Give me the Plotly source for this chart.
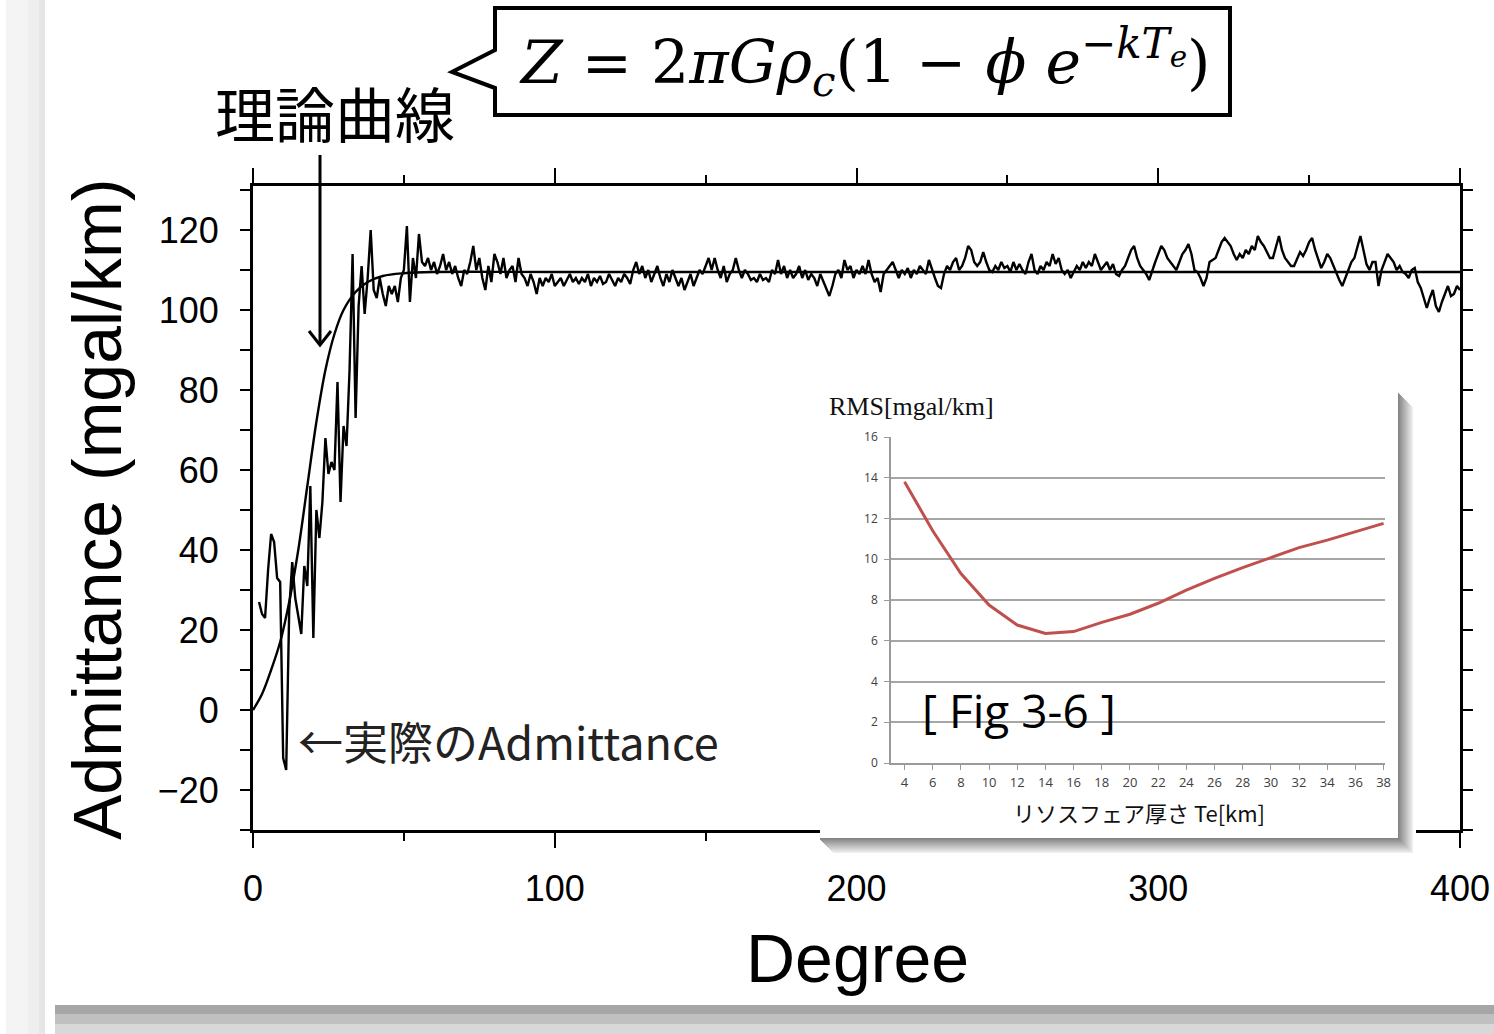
import plotly.graph_objects as go

# ---------------- data ----------------
degree = list(range(2, 401))
admittance_obs = [
    27, 24, 23, 35, 44, 42, 33, 32, -12, -15,
    25, 37, 28, 24, 19, 36, 31, 56, 18, 50,
    43, 52, 68, 59, 62, 60, 82, 52, 71, 66,
    85, 114, 73, 101, 111, 99, 108, 120, 105, 103,
    108, 104, 101, 106, 104, 106, 102, 108, 110, 121,
    102, 113, 108, 119, 112, 111, 113, 110, 112, 109,
    111, 114, 110, 112, 109, 111, 108, 106, 110, 109,
    112, 116, 110, 113, 108, 105, 111, 107, 114, 112,
    109, 113, 108, 110, 111, 107, 113, 109, 108, 106,
    109, 107, 104, 108, 106, 108, 107, 109, 106, 107,
    108, 106, 107.5, 109, 107, 108, 106.5, 108, 107, 109,
    106, 108, 107, 108.5, 106.5, 107, 109, 107.5, 106, 108,
    107, 109, 108, 106.5, 110, 112, 109, 111, 108, 110,
    107, 109, 111, 108, 106, 109, 107, 110, 108, 106,
    108, 105, 107, 109, 106, 108, 110, 109, 111, 113,
    110, 113, 110, 108, 111, 107, 109, 110, 113, 110,
    108, 110, 109, 107.5, 108, 107, 109, 107.5, 108, 107,
    110, 109, 112.5, 109, 111, 108, 110, 108, 109, 111,
    108, 110, 107.5, 109, 108, 106, 109, 107, 105, 103.5,
    106, 109, 110, 108, 112.5, 110, 111, 108, 110, 109,
    111, 109, 112.5, 109, 107, 108, 104.5, 109, 110, 111,
    112, 110, 108, 110, 109, 110.5, 108, 110, 109, 111,
    110, 109, 112.5, 110, 108, 106, 105.5, 109, 111, 110,
    112, 113, 110, 111, 113, 116, 115, 112, 111, 112,
    114.5, 112, 110, 109.5, 111, 110, 112, 110.5, 111, 109.5,
    112, 110, 111.5, 110, 109, 112, 114, 110, 109, 111,
    110, 112, 111, 114, 111.5, 113, 110, 109, 110, 108,
    109.5, 111, 110, 112, 110.5, 112, 111, 114, 112, 110,
    111, 112, 110, 111.5, 109, 108.5, 110, 111, 113, 115,
    116, 113, 111, 110, 109, 107.5, 110, 112, 114, 116,
    115, 113, 112, 111, 110, 112, 114, 115, 116.5, 114,
    110, 109.5, 108, 106, 108, 112, 112.5, 113, 115, 117,
    118, 117, 116, 114, 112.5, 114, 113, 115, 114, 116,
    115, 118.5, 117, 116, 114.5, 113, 113, 116, 118.5, 115,
    113, 112, 111, 111, 113, 114.5, 113.5, 115, 117, 118,
    115, 113, 110.5, 112, 114, 113, 111, 109, 107.5, 106,
    108, 110, 112, 113, 116, 118.5, 115, 111.5, 110, 112,
    112, 106, 110, 112, 114, 113, 112, 110, 111, 109.5,
    109, 108, 110, 110.5, 107, 105.5, 103, 100.5, 103, 105,
    101, 99.5, 102, 104, 106, 103.5, 104, 106, 105,
]
theory_degree = [0, 3, 6, 9, 12, 15, 18, 21, 24, 27, 30, 34, 38, 43, 50, 60, 100, 400]
theory_value = [0, 4, 10, 17, 27, 40, 56, 72, 85, 94, 100, 104.5, 107, 108.5, 109.2, 109.5, 109.5, 109.5]

te_km = [4, 6, 8, 10, 12, 14, 16, 18, 20, 22, 24, 26, 28, 30, 32, 34, 36, 38]
rms = [13.8, 11.4, 9.3, 7.75, 6.77, 6.36, 6.45, 6.9, 7.3, 7.84, 8.49, 9.06, 9.59, 10.08, 10.57, 10.94, 11.35, 11.76]

x_ticks = [0, 100, 200, 300, 400]
y_ticks = [-20, 0, 20, 40, 60, 80, 100, 120]
inset_y_ticks = [0, 2, 4, 6, 8, 10, 12, 14, 16]

# ---------------- layout helpers (pixel -> paper; zero margins) ----------------
W, H = 1494, 1034
L, R, T, B = 253, 1460, 186, 830


def px(X):
    return X / W


def py(Y):
    return 1 - Y / H


# inset box (background layer subplot) and inset plot area, pixels
BX0, BX1, BY0, BY1 = 820, 1416, 388, 856
IX0, IX1, IY0, IY1 = 891, 1385, 437, 763

fig = go.Figure()

fig.add_trace(go.Scatter(x=degree, y=admittance_obs, mode="lines",
                         line=dict(color="black", width=2.4), showlegend=False, hoverinfo="skip"))
fig.add_trace(go.Scatter(x=theory_degree, y=theory_value, mode="lines",
                         line=dict(color="black", width=2.4, shape="spline", smoothing=1.0),
                         showlegend=False, hoverinfo="skip"))
# empty trace to create the inset background subplot
fig.add_trace(go.Scatter(x=[], y=[], xaxis="x2", yaxis="y2", showlegend=False))
fig.add_trace(go.Scatter(x=te_km, y=rms, mode="lines", xaxis="x3", yaxis="y3",
                         line=dict(color="#c0504d", width=3), showlegend=False))

shapes = []
# page shadows
shapes.append(dict(type="rect", xref="paper", yref="paper", x0=px(6), x1=px(45), y0=py(1034), y1=py(0),
                   fillcolor="#f4f4f4", line_width=0, layer="below"))
shapes.append(dict(type="rect", xref="paper", yref="paper", x0=px(28), x1=px(45), y0=py(1034), y1=py(0),
                   fillcolor="#eeeeee", line_width=0, layer="below"))
shapes.append(dict(type="rect", xref="paper", yref="paper", x0=px(39), x1=px(45), y0=py(1034), y1=py(0),
                   fillcolor="#e6e6e6", line_width=0, layer="below"))
for (y0, y1, c) in [(1005, 1034, "#d8d8d8"), (1005, 1024, "#c0c0c0"), (1005, 1014, "#a6a6a6")]:
    shapes.append(dict(type="rect", xref="paper", yref="paper", x0=px(55), x1=px(1494), y0=py(y1), y1=py(y0),
                       fillcolor=c, line_width=0, layer="below"))

# formula callout box
pts = [(495, 8), (1230, 8), (1230, 115), (495, 115), (495, 88), (452, 72), (495, 50)]
path = "M " + " L ".join(f"{px(a):.5f},{py(b):.5f}" for a, b in pts) + " Z"
shapes.append(dict(type="path", xref="paper", yref="paper", path=path,
                   line=dict(color="black", width=4), fillcolor="white", layer="above"))

# arrow for theory curve
shapes.append(dict(type="line", xref="paper", yref="paper", x0=px(320), x1=px(320), y0=py(155), y1=py(344),
                   line=dict(color="black", width=3), layer="above"))
head = f"M {px(309):.5f},{py(331):.5f} L {px(320):.5f},{py(345):.5f} L {px(331):.5f},{py(331):.5f}"
shapes.append(dict(type="path", xref="paper", yref="paper", path=head,
                   line=dict(color="black", width=3), layer="above"))

# inset background with soft shadow (in the x2/y2 subplot, whose axes are in pixels)
for d in range(15, 0, -1):
    g = int(238 - (15 - d) * 7.5)
    shapes.append(dict(type="rect", xref="x2", yref="y2", x0=820 + d - 2, x1=1398 + d,
                       y0=388 + d + 4, y1=838 + d, fillcolor=f"rgb({g},{g},{g})", line_width=0,
                       layer="below"))
shapes.append(dict(type="rect", xref="x2", yref="y2", x0=820, x1=1398, y0=388, y1=838,
                   fillcolor="white", line_width=0, layer="below"))

annotations = []
annotations.append(dict(xref="paper", yref="paper", x=px(97), y=py(510), text="Admittance (mgal/km)",
                        textangle=-90, showarrow=False, xanchor="center", yanchor="middle",
                        font=dict(family="Liberation Sans, Arial", size=68, color="black")))
annotations.append(dict(xref="paper", yref="paper", x=px(857), y=py(958), text="Degree",
                        showarrow=False, xanchor="center", yanchor="middle",
                        font=dict(family="Liberation Sans, Arial", size=68, color="black")))
annotations.append(dict(xref="paper", yref="paper", x=px(335), y=py(112), text="理論曲線",
                        showarrow=False, xanchor="center", yanchor="middle",
                        font=dict(family="Noto Sans CJK JP", size=60, color="black")))
annotations.append(dict(xref="paper", yref="paper", x=px(296), y=py(740), text="←実際のAdmittance",
                        showarrow=False, xanchor="left", yanchor="middle",
                        font=dict(family="Noto Sans CJK JP", size=45, color="#222222")))
annotations.append(dict(xref="paper", yref="paper", x=px(864), y=py(62),
                        text="<i>Z</i> = 2<i>πGρ</i><sub><i>c</i></sub>(1 − <i>ϕ</i> <i>e</i><sup>−<i>kT</i><sub><i>e</i></sub></sup>)",
                        showarrow=False, xanchor="center", yanchor="middle",
                        font=dict(family="DejaVu Serif", size=60, color="black")))
# inset texts
annotations.append(dict(xref="paper", yref="paper", x=px(827), y=py(406), text="RMS[mgal/km]",
                        showarrow=False, xanchor="left", yanchor="middle",
                        font=dict(family="Liberation Serif", size=26, color="#111111")))
annotations.append(dict(xref="paper", yref="paper", x=px(1139), y=py(812), text="リソスフェア厚さ Te[km]",
                        showarrow=False, xanchor="center", yanchor="middle",
                        font=dict(family="Noto Sans CJK JP", size=22, color="#111111")))
annotations.append(dict(xref="paper", yref="paper", x=px(1019), y=py(710), text="[ Fig 3-6 ]",
                        showarrow=False, xanchor="center", yanchor="middle",
                        font=dict(family="Open Sans", size=46, color="black")))

fig.update_layout(
    width=W, height=H,
    margin=dict(l=0, r=0, t=0, b=0, autoexpand=False),
    paper_bgcolor="white", plot_bgcolor="white",
    showlegend=False, hovermode=False,
    shapes=shapes, annotations=annotations,
    xaxis=dict(domain=[px(L), px(R)], anchor="y", range=[0, 400], tickvals=x_ticks, ticks="outside",
               ticklen=15, tickwidth=2, automargin=False,
               tickcolor="black", showline=True, linewidth=3, linecolor="black", mirror="allticks",
               showgrid=False, zeroline=False, ticklabelstandoff=10,
               minor=dict(dtick=50, tick0=0, ticks="outside", ticklen=8, tickwidth=2, tickcolor="black"),
               tickfont=dict(family="Liberation Sans, Arial", size=36, color="black")),
    yaxis=dict(domain=[py(B), py(T)], anchor="x", range=[-30, 131], tickvals=y_ticks, ticks="outside",
               ticklen=10, tickwidth=2, automargin=False,
               tickcolor="black", showline=True, linewidth=3, linecolor="black", mirror="allticks",
               showgrid=False, zeroline=False, ticklabelstandoff=14,
               minor=dict(dtick=10, tick0=0, ticks="outside", ticklen=10, tickwidth=2, tickcolor="black"),
               tickfont=dict(family="Liberation Sans, Arial", size=36, color="black")),
    xaxis2=dict(domain=[px(BX0), px(BX1)], anchor="y2", range=[BX0, BX1], visible=False,
                automargin=False, fixedrange=True),
    yaxis2=dict(domain=[py(BY1), py(BY0)], anchor="x2", range=[BY1, BY0], visible=False,
                automargin=False, fixedrange=True),
    xaxis3=dict(domain=[px(IX0), px(IX1)], anchor="y3", range=[3.04, 38.1], tickvals=te_km,
                ticks="outside", ticklen=5, tickcolor="#9a9a9a", showline=True, linecolor="#9a9a9a",
                linewidth=1.5, showgrid=False, zeroline=False, ticklabelstandoff=2, automargin=False,
                tickfont=dict(family="Open Sans", size=13, color="#404040")),
    yaxis3=dict(domain=[py(IY1), py(IY0)], anchor="x3", range=[0, 16], tickvals=inset_y_ticks,
                ticks="outside", ticklen=5, tickcolor="#9a9a9a", showline=True, linecolor="#9a9a9a",
                linewidth=1.5, showgrid=True, gridcolor="#a6a6a6", gridwidth=1.5, zeroline=False,
                ticklabelstandoff=4, automargin=False,
                tickfont=dict(family="Open Sans", size=12, color="#404040")),
)

fig.write_html("out.html")
